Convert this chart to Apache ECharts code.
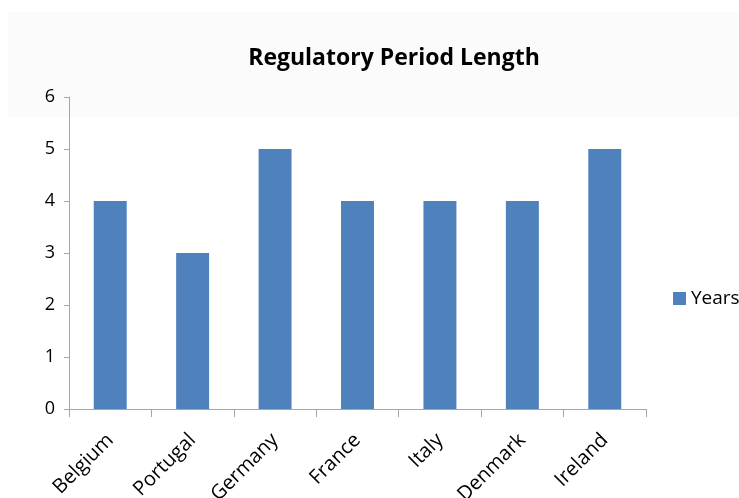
<!DOCTYPE html>
<html>
<head>
<meta charset="utf-8">
<script src="https://cdn.jsdelivr.net/npm/echarts@6/dist/echarts.min.js"></script>
<style>
  html, body { margin: 0; padding: 0; background: #ffffff; }
  #chart { width: 739px; height: 498px; }
</style>
</head>
<body>
<div id="chart"></div>
<script>
// Regulatory period length by country (years)
const countries = ['Belgium', 'Portugal', 'Germany', 'France', 'Italy', 'Denmark', 'Ireland'];
const years = [4, 3, 5, 4, 4, 4, 5];
const yTicks = [0, 1, 2, 3, 4, 5, 6];

const FONT = '"Open Sans", "Noto Sans", sans-serif';

const chart = echarts.init(document.getElementById('chart'), null, { renderer: 'canvas' });

chart.setOption({
  backgroundColor: '#ffffff',
  animation: false,
  graphic: [
    {
      type: 'rect',
      z: -10,
      shape: { x: 8, y: 12, width: 731, height: 105 },
      style: { fill: '#fbfbfb' }
    }
  ],
  title: {
    text: 'Regulatory Period Length',
    left: 389,
    top: 42,
    textAlign: 'center',
    textStyle: { fontFamily: FONT, fontSize: 23, fontWeight: 'bold', color: '#000000' }
  },
  legend: {
    data: ['Years'],
    left: 668,
    top: 284,
    itemWidth: 13,
    itemHeight: 13,
    itemGap: 6,
    icon: 'rect',
    textStyle: { fontFamily: FONT, fontSize: 19, color: '#000000' }
  },
  grid: {
    left: 69, right: 93, top: 97, bottom: 89,
    containLabel: false,
    outerBoundsMode: 'none'
  },
  xAxis: {
    type: 'category',
    data: countries,
    boundaryGap: true,
    axisLine: { lineStyle: { color: '#a6a6a6', width: 1 } },
    axisTick: { show: true, alignWithLabel: false, length: 8, lineStyle: { color: '#a6a6a6' } },
    axisLabel: {
      rotate: 45,
      interval: 0,
      margin: 28,
      fontFamily: FONT,
      fontSize: 20,
      color: '#000000'
    }
  },
  yAxis: {
    type: 'value',
    min: yTicks[0],
    max: yTicks[yTicks.length - 1],
    interval: 1,
    splitLine: { show: false },
    axisLine: { show: true, lineStyle: { color: '#a6a6a6', width: 1 } },
    axisTick: { show: true, length: 5, lineStyle: { color: '#a6a6a6' } },
    axisLabel: { fontFamily: FONT, fontSize: 18, color: '#000000', margin: 14 }
  },
  series: [
    {
      name: 'Years',
      type: 'bar',
      data: years,
      barWidth: '40%',
      itemStyle: { color: '#4f81bd' }
    }
  ]
});
</script>
</body>
</html>
